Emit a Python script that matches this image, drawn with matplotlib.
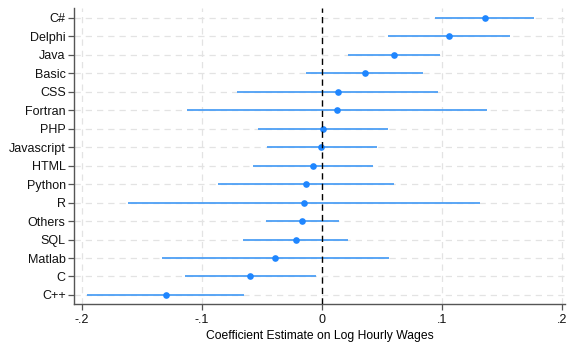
import matplotlib
matplotlib.use("Agg")
import matplotlib.pyplot as plt

plt.rcParams['font.family'] = ['Liberation Sans', 'DejaVu Sans']

languages = ["C#", "Delphi", "Java", "Basic", "CSS", "Fortran", "PHP", "Javascript",
             "HTML", "Python", "R", "Others", "SQL", "Matlab", "C", "C++"]
estimate = [0.1356, 0.1062, 0.0599, 0.0358, 0.0131, 0.0125, 0.0008, -0.0003,
            -0.0077, -0.0130, -0.0150, -0.0163, -0.0219, -0.0388, -0.0596, -0.1300]
ci_low = [0.0946, 0.0555, 0.0216, -0.0130, -0.0704, -0.1123, -0.0532, -0.0460,
          -0.0574, -0.0865, -0.1614, -0.0463, -0.0657, -0.1334, -0.1142, -0.1952]
ci_high = [0.1770, 0.1567, 0.0985, 0.0844, 0.0968, 0.1379, 0.0555, 0.0461,
           0.0425, 0.0605, 0.1320, 0.0139, 0.0222, 0.0563, -0.0052, -0.0649]
xticks = [-0.2, -0.1, 0, 0.1, 0.2]
xtick_labels = ["-.2", "-.1", "0", ".1", ".2"]

n = len(languages)
ypos = [n - 1 - i for i in range(n)]

fig = plt.figure(figsize=(5.7, 3.45), dpi=100)
ax = fig.add_axes([0.1298, 0.1188, 0.8614, 0.858])

# grid
for xv in xticks:
    if xv != 0:
        ax.axvline(xv, color="#e3e3e3", lw=0.9, ls=(0, (5, 4)), zorder=0)
for yv in ypos:
    ax.axhline(yv, color="#e3e3e3", lw=0.9, ls=(0, (5, 4)), zorder=0)

ax.hlines(ypos, ci_low, ci_high, color="#4d9ff5", lw=1.3, zorder=2)
ax.plot(estimate, ypos, "o", color="#1f86ff", ms=4.8, mec="none", zorder=3)
ax.axvline(0, color="black", lw=1.0, ls=(0, (4.5, 3)), zorder=4)

ax.set_xlim(-0.2064, 0.2025)
ax.set_ylim(-0.49, n - 1 + 0.54)
ax.set_yticks(ypos)
ax.set_yticklabels(languages)
ax.set_xticks(xticks)
ax.set_xticklabels(xtick_labels)
ax.set_xlabel("Coefficient Estimate on Log Hourly Wages", fontsize=8.7, labelpad=3)

for side in ("top", "right"):
    ax.spines[side].set_visible(False)
for side in ("left", "bottom"):
    ax.spines[side].set_color("#555555")
    ax.spines[side].set_linewidth(1.0)
ax.tick_params(axis="both", colors="#555555", labelcolor="#111111", labelsize=9,
               length=4, width=0.9)
ax.tick_params(axis="y", pad=2)
ax.tick_params(axis="x", pad=3)

fig.savefig("out.png", dpi=100, facecolor="white")
